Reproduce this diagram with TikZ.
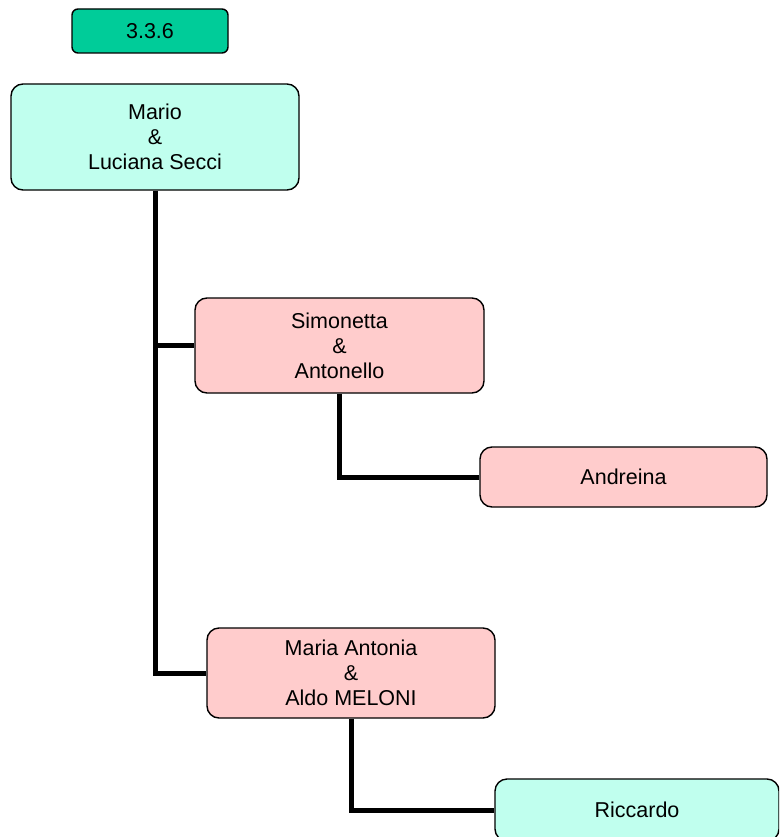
\documentclass[tikz,border=0pt]{standalone}
\usepackage{fontspec}
\setmainfont{Liberation Sans}
\usetikzlibrary{backgrounds}
\definecolor{headgreen}{HTML}{00CC99}
\definecolor{mint}{HTML}{C0FFEE}
\definecolor{pinkish}{HTML}{FFCCCC}
\tikzset{
  person/.style={draw=black, line width=1.4pt, rounded corners=12pt, align=center,
    inner sep=0pt, font=\fontsize{21.5}{25}\selectfont},
  link/.style={line width=5pt, draw=black}
}
\begin{document}
\begin{tikzpicture}[x=1pt,y=-1pt]
\clip (0,0) rectangle (779,837);
\node[person, fill=headgreen, minimum width=156pt, minimum height=44pt, rounded corners=6pt] (head) at (150,31) {3.3.6};
\node[person, fill=mint, minimum width=288pt, minimum height=106pt] (mario) at (155,137) {Mario\\\&\\Luciana Secci};
\node[person, fill=pinkish, minimum width=289pt, minimum height=95pt] (simo) at (339.5,345.5) {Simonetta\\\&\\Antonello};
\node[person, fill=pinkish, minimum width=287pt, minimum height=60pt] (andr) at (623.5,477) {Andreina};
\node[person, fill=pinkish, minimum width=288pt, minimum height=90pt] (maria) at (351,673) {Maria Antonia\\\&\\Aldo MELONI};
\node[person, fill=mint, minimum width=284pt, minimum height=62pt] (ric) at (637,810) {Riccardo};
\begin{scope}[on background layer]
\fill[white] (0,0) rectangle (779,837);
\draw[link] (mario.south) -- (mario.south |- maria.west) -- (maria.west);
\draw[link] (mario.south |- simo.west) -- (simo.west);
\draw[link] (simo.south) |- (andr.west);
\draw[link] (maria.south) |- (ric.west);
\end{scope}
\end{tikzpicture}
\end{document}
